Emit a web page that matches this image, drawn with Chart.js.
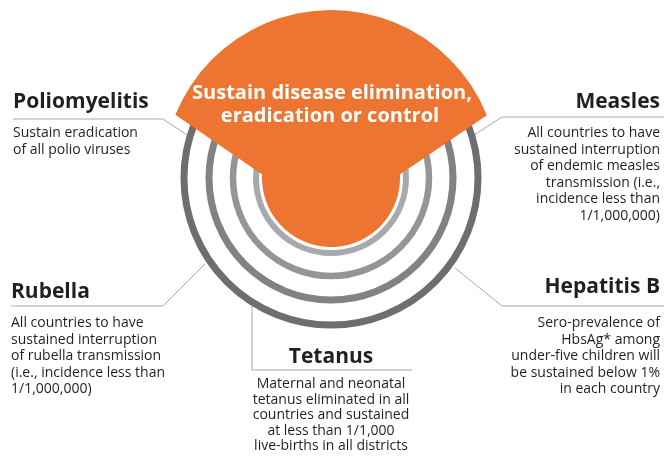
<!DOCTYPE html>
<html>
<head>
<meta charset="utf-8">
<script src="https://cdn.jsdelivr.net/npm/chart.js@4"></script>
<style>
  html, body { margin: 0; padding: 0; background: #fff; }
  #wrap { width: 664px; height: 459px; }
</style>
</head>
<body>
<div id="wrap"><canvas id="chartGoals" width="664" height="459"></canvas></div>
<script>
// headline inside the orange shape
const headline = ["Sustain disease elimination,", "eradication or control"];

// the five diseases and their goal texts
const diseases = ["Poliomyelitis", "Measles", "Rubella", "Tetanus", "Hepatitis B"];
const goals = [
    ["Sustain eradication", "of all polio viruses"],
    ["All countries to have", "sustained interruption", "of endemic measles", "transmission (i.e.,", "incidence less than", "1/1,000,000)"],
    ["All countries to have", "sustained interruption", "of rubella transmission", "(i.e., incidence less than", "1/1,000,000)"],
    ["Maternal and neonatal", "tetanus eliminated in all", "countries and sustained", "at less than 1/1,000", "live-births in all districts"],
    ["Sero-prevalence of", "HbsAg* among", "under-five children will", "be sustained below 1%", "in each country"]
];

const ORANGE = "#ee7432";
const TEXT = "#231f20";
const LEADER = "#a7a9ac";
const ringColors = ["#a7a9ac", "#939598", "#808285", "#6d6e71"];

// where each label block sits: x, heading baseline, first text baseline, line step, align, underline
const blocks = [
    { x: 13, y: 108, ty: 137, step: 16.5, align: "left", rule: [[13, 119], [163, 119], [190, 137]] },
    { x: 660, y: 108, ty: 137, step: 16.6, align: "right", rule: [[664, 117], [502, 117], [474, 135]] },
    { x: 11, y: 298, ty: 327, step: 16.5, align: "left", rule: [[11, 306], [163, 306], [205, 264]] },
    { x: 331, y: 363, ty: 388, step: 15.5, align: "center", rule: [[252, 300], [252, 370], [412, 370]] },
    { x: 660, y: 293, ty: 327, step: 16.5, align: "right", rule: [[664, 306], [502, 306], [455, 268]] }
];

const drawPlugin = {
    id: "goalsDrawing",
    afterDraw(chart) {
        const { ctx, scales } = chart;
        const X = v => scales.x.getPixelForValue(v);
        const Y = v => scales.y.getPixelForValue(v);
        const cx = X(331), cy = Y(178);
        const deg = d => d * Math.PI / 180;
        ctx.save();

        // leader lines
        ctx.strokeStyle = LEADER;
        ctx.lineWidth = 1;
        blocks.forEach(b => {
            ctx.beginPath();
            b.rule.forEach((p, i) => {
                if (i === 0) ctx.moveTo(X(p[0]), Y(p[1]));
                else ctx.lineTo(X(p[0]), Y(p[1]));
            });
            ctx.stroke();
        });

        // rings
        const radii = [75, 98, 122, 147];
        const widths = [6, 6.5, 7, 7];
        radii.forEach((r, i) => {
            ctx.beginPath();
            ctx.arc(cx, cy, r, 0, Math.PI * 2);
            ctx.strokeStyle = ringColors[i];
            ctx.lineWidth = widths[i];
            ctx.stroke();
        });

        // orange shape
        ctx.beginPath();
        ctx.arc(cx, cy, 168, deg(-157.9), deg(-21.9), false);
        ctx.lineTo(cx + 69 * Math.cos(deg(-3)), cy + 69 * Math.sin(deg(-3)));
        ctx.arc(cx, cy, 69, deg(-3), deg(183), false);
        ctx.closePath();
        ctx.fillStyle = ORANGE;
        ctx.fill();

        // headline
        ctx.fillStyle = "#ffffff";
        ctx.font = "bold 20px 'Open Sans'";
        ctx.textAlign = "center";
        ctx.textBaseline = "alphabetic";
        ctx.fillText(headline[0], X(332), Y(99));
        ctx.fillText(headline[1], X(330), Y(122));

        // label blocks
        diseases.forEach((name, i) => {
            const b = blocks[i];
            ctx.textAlign = b.align;
            ctx.fillStyle = TEXT;
            ctx.font = "bold 21px 'Open Sans'";
            ctx.fillText(name, X(b.x), Y(b.y));
            ctx.font = "14px 'Open Sans'";
            goals[i].forEach((line, j) => {
                ctx.fillText(line, X(b.x), Y(b.ty + j * b.step));
            });
        });
        ctx.restore();
    }
};

window.addEventListener('DOMContentLoaded', () => {
    const chartGoals = new Chart("chartGoals", {
        type: "scatter",
        data: { datasets: [{ data: [] }] },
        options: {
            responsive: false,
            animation: false,
            layout: { padding: 0 },
            scales: {
                x: { type: "linear", min: 0, max: 664, display: false },
                y: { type: "linear", min: 0, max: 459, reverse: true, display: false }
            },
            plugins: {
                legend: { display: false },
                tooltip: { enabled: false }
            }
        },
        plugins: [drawPlugin]
    });
});
</script>
</body>
</html>
